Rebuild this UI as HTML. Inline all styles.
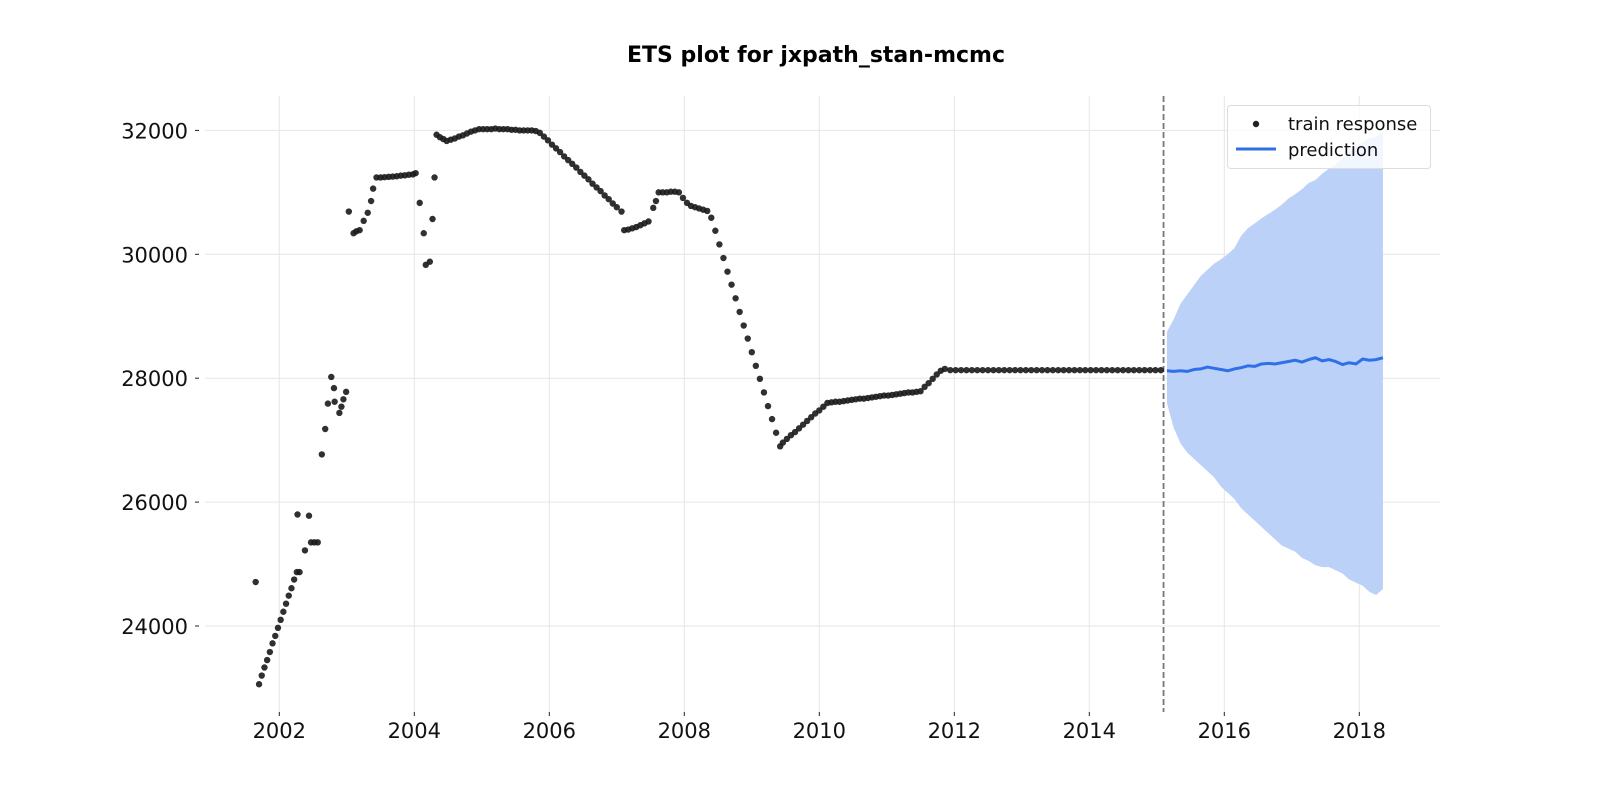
<!DOCTYPE html>
<html><head><meta charset="utf-8"><style>
html,body{margin:0;padding:0;background:#fff;}
svg text{font-family:"DejaVu Sans","Liberation Sans",sans-serif;}
</style></head><body>
<svg id="chart" width="1600" height="800" xmlns="http://www.w3.org/2000/svg">
<text x="816" y="62" text-anchor="middle" font-size="22" font-weight="bold" fill="#000">ETS plot for jxpath_stan-mcmc</text>
<g id="grid"></g>
<g id="band"></g>
<g id="axes"></g>
<g id="pts"></g>
<g id="pred"></g>
<g>
<rect x="1227.5" y="105.5" width="203" height="63" rx="3" fill="#fff" fill-opacity="0.8" stroke="#ddd"/>
<circle cx="1256" cy="124" r="3.2" fill="#222"/>
<text x="1288" y="130" font-size="18" fill="#111">train response</text>
<line x1="1236" y1="149" x2="1276" y2="149" stroke="#2f6fe8" stroke-width="3"/>
<text x="1288" y="156" font-size="18" fill="#111">prediction</text>
</g>
</svg>
<script>
const trainDates=[2001.65,2001.70,2001.74,2001.78,2001.82,2001.86,2001.90,2001.94,2001.98,2002.02,2002.06,2002.10,2002.14,2002.18,2002.22,2002.26,2002.30,
2002.27,2002.44,2002.38,2002.47,2002.52,2002.57,2002.63,2002.68,2002.72,2002.77,2002.81,2002.82,2002.89,2002.92,2002.95,2002.99,
2003.03,2003.10,2003.14,2003.19,2003.25,2003.31,2003.36,2003.39,2003.44,2003.50,2003.56,2003.62,2003.68,2003.74,2003.80,2003.86,2003.92,2003.98,2004.02,
2004.08,2004.14,2004.17,2004.23,2004.27,2004.30,2004.33,2004.38,2004.43,2004.48,2004.54,2004.60,2004.66,2004.72,2004.78,2004.84,2004.90,2004.96,2005.02,
2005.08,2005.14,2005.20,2005.26,2005.32,2005.38,2005.44,2005.50,2005.56,2005.62,2005.68,2005.74,2005.80,
2005.86,2005.92,2005.98,2006.04,2006.10,2006.16,2006.22,2006.28,2006.34,2006.40,2006.46,2006.52,2006.58,2006.64,2006.70,2006.76,2006.82,2006.88,2006.94,2007.00,
2007.07,2007.11,2007.17,2007.23,2007.29,2007.35,2007.41,2007.47,2007.54,2007.58,2007.62,2007.68,2007.74,2007.80,2007.86,2007.92,2007.98,2008.04,2008.10,2008.16,2008.22,2008.28,2008.34,
2008.40,2008.46,2008.52,2008.58,2008.64,2008.70,2008.76,2008.82,2008.88,2008.94,2009.00,2009.06,2009.12,2009.18,2009.24,2009.30,2009.36,2009.42,
2009.46,2009.52,2009.58,2009.64,2009.70,2009.76,2009.82,2009.88,2009.94,2010.00,2010.06,2010.12,
2010.18,2010.24,2010.30,2010.36,2010.42,2010.48,2010.54,2010.60,2010.66,2010.72,2010.78,2010.84,2010.90,2010.96,2011.02,2011.08,2011.14,2011.20,2011.26,2011.32,2011.38,2011.44,2011.50,
2011.56,2011.62,2011.68,2011.74,2011.80,2011.86,
2011.94,2012.02,2012.10,2012.18,2012.26,2012.34,2012.42,2012.50,2012.58,2012.66,2012.74,2012.82,2012.90,2012.98,2013.06,2013.14,2013.22,2013.30,2013.38,2013.46,
2013.54,2013.62,2013.70,2013.78,2013.86,2013.94,2014.02,2014.10,2014.18,2014.26,2014.34,2014.42,2014.50,2014.58,2014.66,2014.74,2014.82,2014.90,2014.98,2015.06];
const trainValues=[24710,23060,23200,23330,23450,23580,23720,23840,23970,24100,24230,24360,24490,24610,24750,24870,24870,
25800,25780,25220,25350,25350,25350,26770,27180,27590,28020,27840,27620,27440,27540,27660,27780,
30690,30340,30370,30390,30540,30670,30860,31060,31240,31240,31245,31250,31255,31260,31270,31275,31285,31290,31310,
30830,30340,29830,29880,30570,31240,31930,31890,31860,31830,31850,31870,31900,31920,31950,31980,32000,32020,32020,
32020,32020,32030,32020,32020,32020,32010,32010,32000,32000,32000,32000,31990,
31960,31900,31840,31770,31710,31650,31580,31520,31460,31400,31330,31270,31210,31140,31080,31020,30950,30890,30820,30760,
30690,30390,30400,30420,30440,30470,30500,30530,30750,30860,31000,31000,31000,31010,31010,31000,30910,30830,30780,30760,30740,30720,30700,
30590,30380,30160,29940,29720,29510,29290,29070,28850,28640,28420,28200,27990,27770,27550,27340,27120,26900,
26960,27020,27080,27130,27190,27250,27310,27370,27430,27480,27540,27600,
27610,27620,27620,27630,27640,27650,27660,27670,27670,27680,27690,27700,27710,27720,27720,27730,27740,27750,27760,27770,27770,27780,27790,
27860,27920,27990,28060,28120,28150,
28130,28130,28130,28130,28130,28130,28130,28130,28130,28130,28130,28130,28130,28130,28130,28130,28130,28130,28130,28130,
28130,28130,28130,28130,28130,28130,28130,28130,28130,28130,28130,28130,28130,28130,28130,28130,28130,28130,28130,28130];
const predDates=[2015.15,2015.25,2015.35,2015.45,2015.55,2015.65,2015.75,2015.85,2015.95,2016.05,2016.15,2016.25,2016.35,2016.45,2016.55,2016.65,2016.75,2016.85,2016.95,2017.05,2017.15,2017.25,2017.35,2017.45,2017.55,2017.65,2017.75,2017.85,2017.95,2018.05,2018.15,2018.25,2018.35];
const predValues=[28120,28110,28120,28110,28140,28150,28180,28160,28140,28120,28150,28170,28200,28190,28230,28240,28230,28250,28270,28290,28260,28300,28330,28280,28300,28270,28220,28250,28230,28310,28290,28300,28330];
const predUpper=[28750,28950,29200,29350,29500,29650,29750,29850,29920,30000,30100,30300,30420,30500,30580,30650,30720,30800,30900,30970,31050,31150,31200,31300,31380,31450,31550,31650,31750,31800,31880,31900,31980];
const predLower=[27600,27200,26950,26800,26700,26600,26500,26400,26250,26150,26050,25900,25800,25700,25600,25500,25400,25300,25250,25200,25100,25050,24980,24950,24950,24900,24850,24750,24700,24650,24550,24500,24600];
const xTicks=[2002,2004,2006,2008,2010,2012,2014,2016,2018];
const yTicks=[24000,26000,28000,30000,32000];
const splitDate=2015.1;

const NS='http://www.w3.org/2000/svg';
const X=v=>279.3+(v-2002)*67.5;
const Y=v=>626-(v-24000)*123.9/2000;
const L=205,R=1440,T=96,B=712;
function mk(tag,attrs,parent){const e=document.createElementNS(NS,tag);for(const k in attrs)e.setAttribute(k,attrs[k]);parent.appendChild(e);return e;}
const grid=document.getElementById('grid'),axes=document.getElementById('axes');
xTicks.forEach(t=>{
  const g=mk('line',{x1:X(t),x2:X(t),y1:T,y2:B,stroke:'#e6e6e6','stroke-width':1},grid);
  
  
  const tk=mk('line',{x1:X(t),x2:X(t),y1:B,y2:B+4,stroke:'#222','stroke-width':1},axes);
  
  
  const tx=mk('text',{x:X(t),y:738,'text-anchor':'middle','font-size':21,fill:'#111'},axes);
  tx.textContent=t;
  
  
});
yTicks.forEach(t=>{
  const g=mk('line',{x1:L,x2:R,y1:Y(t),y2:Y(t),stroke:'#e6e6e6','stroke-width':1},grid);
  
  
  const tk=mk('line',{x1:195,x2:199,y1:Y(t),y2:Y(t),stroke:'#222','stroke-width':1},axes);
  
  
  const tx=mk('text',{x:188,y:Y(t)+8,'text-anchor':'end','font-size':21,fill:'#111'},axes);
  tx.textContent=t;
  
  
});
const vl=mk('line',{x1:X(splitDate),x2:X(splitDate),y1:T,y2:B,stroke:'#777','stroke-width':1.8,'stroke-dasharray':'6,3'},axes);



let up=predDates.map((d,i)=>X(d)+','+Y(predUpper[i]));
let lo=predDates.map((d,i)=>X(d)+','+Y(predLower[i])).reverse();
const band=mk('polygon',{points:up.concat(lo).join(' '),fill:'#bcd1f7'},document.getElementById('band'));



const pts=document.getElementById('pts');
trainDates.forEach((d,i)=>{
  const c=mk('circle',{cx:X(d),cy:Y(trainValues[i]),r:3.2,fill:'#1a1a1a','fill-opacity':0.9},pts);
  
  
});
const pl=mk('polyline',{points:predDates.map((d,i)=>X(d)+','+Y(predValues[i])).join(' '),fill:'none',stroke:'#2f6fe8','stroke-width':3,'stroke-linejoin':'round'},document.getElementById('pred'));


</script>
</body></html>
